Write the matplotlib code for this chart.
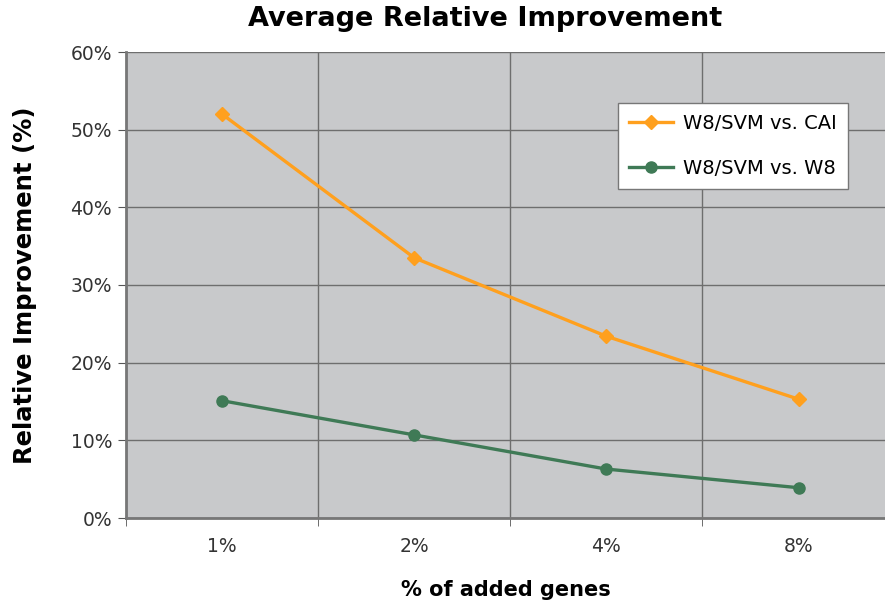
import numpy as np
import matplotlib.pyplot as plt

categories = ['1%', '2%', '4%', '8%']
vs_cai = [52.0, 33.5, 23.4, 15.3]
vs_w8 = [15.1, 10.7, 6.3, 3.9]
yticks = [0, 10, 20, 30, 40, 50, 60]

plt.rcParams['font.family'] = 'DejaVu Sans'

fig = plt.figure(figsize=(8.85, 6.07), dpi=100)
ax = fig.add_axes([126/885, 1-518/607, 1-126/885, (518-52)/607])
ax.set_facecolor('#C8C9CB')

x = np.arange(len(categories))
ax.plot(x, vs_cai, color='#FFA01E', marker='D', markersize=7, lw=2.4, label='W8/SVM vs. CAI', clip_on=False)
ax.plot(x, vs_w8, color='#3F7A56', marker='o', markersize=8, lw=2.4, label='W8/SVM vs. W8', clip_on=False)

ax.set_xlim(-0.5, 3.45)
ax.set_ylim(0, 60)
ax.set_yticks(yticks)
ax.set_yticklabels([f'{v}%' for v in yticks], fontsize=13.5, color='#333333')
ax.set_xticks(x)
ax.set_xticklabels(categories, fontsize=13.5, color='#333333')
ax.tick_params(axis='x', length=0, pad=14)
ax.tick_params(axis='y', length=6, color='#555555', pad=4)
ax.set_xticks(np.arange(-0.5, 3.5, 1), minor=True)
ax.tick_params(axis='x', which='minor', length=6, color='#555555')

ax.grid(axis='y', color='#6E6E6E', lw=1)
ax.grid(axis='x', which='minor', color='#6E6E6E', lw=1)
ax.set_axisbelow(True)

for s in ['top', 'right']:
    ax.spines[s].set_visible(False)
ax.spines['left'].set_color('#777777')
ax.spines['left'].set_linewidth(2)
ax.spines['bottom'].set_color('#777777')
ax.spines['bottom'].set_linewidth(2)

ax.set_xlabel('% of added genes', fontsize=15, fontweight='bold', labelpad=17)
ax.set_ylabel('Relative Improvement (%)', fontsize=17.5, fontweight='bold', labelpad=24)
fig.text(0.548, 0.968, 'Average Relative Improvement', ha='center', va='center',
         fontsize=19.5, fontweight='bold')

leg = ax.legend(loc='upper left', bbox_to_anchor=((618-126)/759, (518-103)/466),
                borderaxespad=0,
                fontsize=14, frameon=True, fancybox=False, edgecolor='#777777',
                framealpha=1, facecolor='white',
                borderpad=0.55, labelspacing=1.35, handlelength=2.3, handletextpad=0.5)
leg.get_frame().set_linewidth(1)

fig.savefig('out.png', dpi=100)
